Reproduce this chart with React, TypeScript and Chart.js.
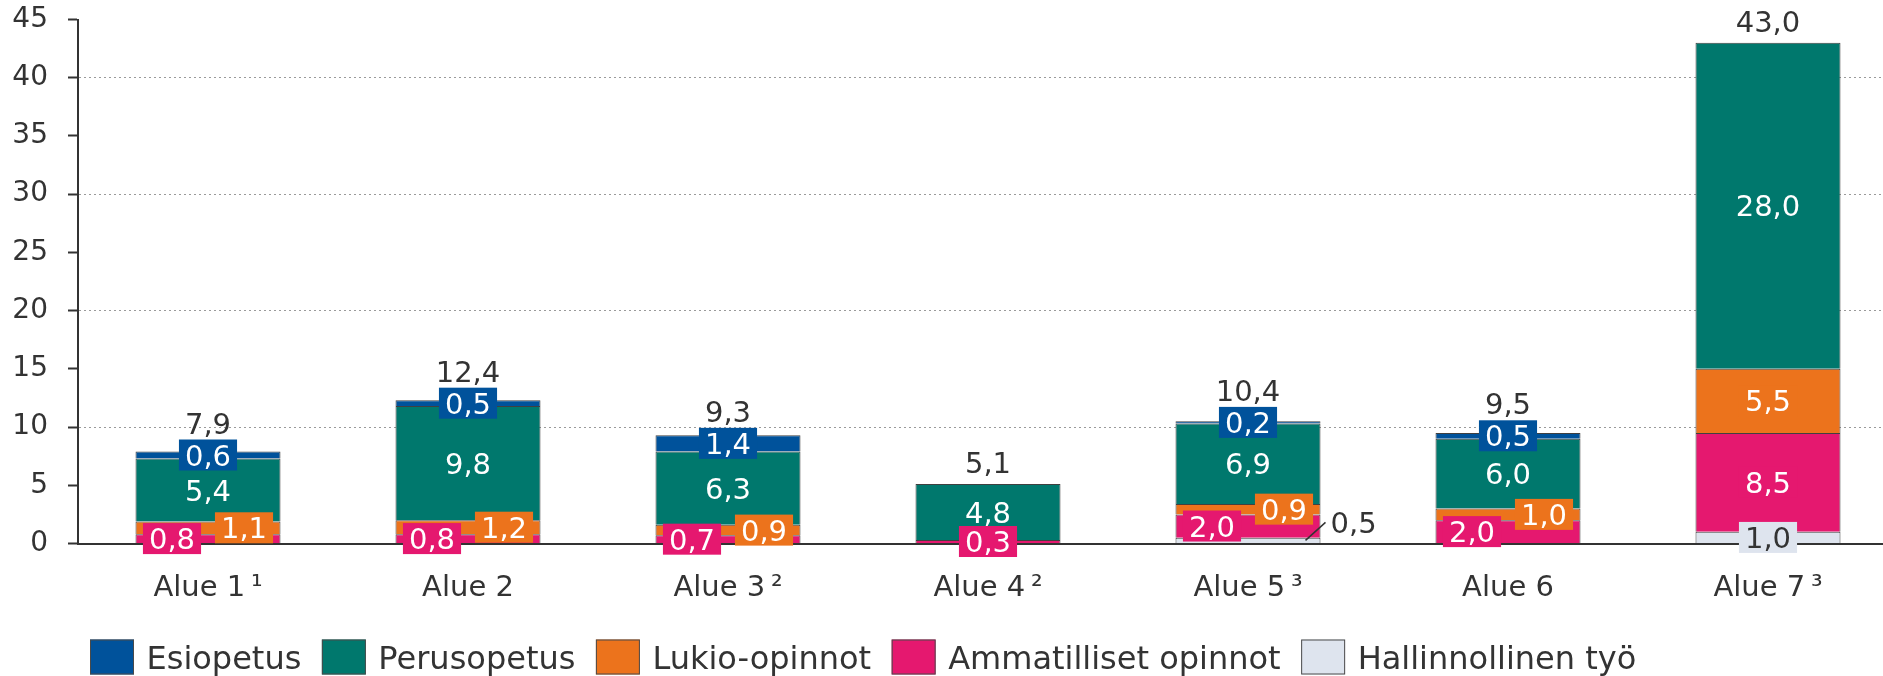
import { useEffect, useRef } from 'react';
import { Chart, registerables } from 'chart.js';

Chart.register(...registerables);

const FONT = '"DejaVu Sans", Verdana, sans-serif';
const TEXT = '#333333';

const categories = ['Alue 1\u2009¹', 'Alue 2', 'Alue 3\u2009²', 'Alue 4\u2009²', 'Alue 5\u2009³', 'Alue 6', 'Alue 7\u2009³'];
const hallinnollinen: (number | null)[] = [null, null, null, null, 0.5, null, 1.0];
const ammatilliset: (number | null)[] = [0.8, 0.8, 0.7, 0.3, 2.0, 2.0, 8.5];
const lukio: (number | null)[] = [1.1, 1.2, 0.9, null, 0.9, 1.0, 5.5];
const perusopetus: (number | null)[] = [5.4, 9.8, 6.3, 4.8, 6.9, 6.0, 28.0];
const esiopetus: (number | null)[] = [0.6, 0.5, 1.4, null, 0.2, 0.5, null];
const totals = [7.9, 12.4, 9.3, 5.1, 10.4, 9.5, 43.0];
const yMin = 0;
const yMax = 45;
const yStep = 5;

const COLORS = {
  esi: '#00529B',
  perus: '#00786D',
  lukio: '#EC731C',
  amm: '#E5186F',
  hall: '#DEE4EE',
};

const fmt = (v: number) => v.toFixed(1).replace('.', ',');

const LABEL_SIZE = 29;

const labelPlugin = {
  id: 'valueLabels',
  afterDatasetsDraw(chart: any) {
    const ctx = chart.ctx;
    ctx.save();
    ctx.font = `${LABEL_SIZE}px ${FONT}`;
    ctx.textAlign = 'center';
    ctx.textBaseline = 'alphabetic';
    const off = 0.3645 * LABEL_SIZE;
    const BOX_H = 31;
    const PAD = 6;
    const SMALL = 30;
    const seg = (d: number, i: number) => {
      const v = chart.data.datasets[d].data[i];
      if (v == null) return null;
      const el = chart.getDatasetMeta(d).data[i];
      return {
        v: v as number,
        x: el.x,
        top: Math.min(el.y, el.base),
        cy: (el.y + el.base) / 2,
        h: Math.abs(el.base - el.y),
        right: el.x + el.width / 2,
      };
    };
    const boxed = (txt: string, cx: number, cy: number, bg: string, fg: string) => {
      const w = ctx.measureText(txt).width + PAD * 2;
      ctx.fillStyle = bg;
      ctx.fillRect(cx - w / 2, cy - BOX_H / 2, w, BOX_H);
      ctx.fillStyle = fg;
      ctx.fillText(txt, cx, cy + off);
    };
    for (let i = 0; i < categories.length; i++) {
      const hall = seg(0, i);
      const amm = seg(1, i);
      const luk = seg(2, i);
      const per = seg(3, i);
      const esi = seg(4, i);
      if (per) {
        ctx.fillStyle = '#ffffff';
        ctx.fillText(fmt(per.v), per.x, per.cy + off);
      }
      if (hall) {
        if (hall.h < 10) {
          ctx.strokeStyle = TEXT;
          ctx.lineWidth = 1.5;
          ctx.beginPath();
          ctx.moveTo(hall.right - 15, hall.cy);
          ctx.lineTo(hall.right + 5, hall.cy - 18);
          ctx.stroke();
          ctx.fillStyle = TEXT;
          ctx.textAlign = 'left';
          ctx.fillText(fmt(hall.v), hall.right + 10, hall.cy - 18 + off);
          ctx.textAlign = 'center';
        } else {
          boxed(fmt(hall.v), hall.x, hall.cy, COLORS.hall, TEXT);
        }
      }
      if (amm) {
        const dx = amm.h < SMALL && luk ? -36 : 0;
        boxed(fmt(amm.v), amm.x + dx, amm.cy, COLORS.amm, '#ffffff');
      }
      if (luk) {
        const dx = luk.h < SMALL && amm ? 36 : 0;
        boxed(fmt(luk.v), luk.x + dx, luk.cy, COLORS.lukio, '#ffffff');
      }
      let totalBase = Infinity;
      if (esi) {
        boxed(fmt(esi.v), esi.x, esi.cy, COLORS.esi, '#ffffff');
        totalBase = esi.cy - BOX_H / 2 - 6;
      }
      const topSeg = esi || per;
      if (topSeg) {
        const barTop = topSeg.top;
        totalBase = Math.min(totalBase, barTop - 11);
        ctx.fillStyle = TEXT;
        ctx.fillText(fmt(totals[i]), topSeg.x, totalBase);
      }
    }
    ctx.restore();
  },
  afterDraw(chart: any) {
    const ctx = chart.ctx;
    ctx.save();
    const LS = 32;
    ctx.font = `${LS}px ${FONT}`;
    ctx.textAlign = 'left';
    ctx.textBaseline = 'alphabetic';
    const cy = 657;
    const BW = 44;
    const BH = 35;
    let x = 90;
    const ds = chart.data.datasets.slice().reverse();
    for (const d of ds) {
      ctx.fillStyle = d.backgroundColor;
      ctx.fillRect(x, cy - BH / 2, BW, BH);
      ctx.strokeStyle = '#4a4a4a';
      ctx.lineWidth = 1;
      ctx.strokeRect(x + 0.5, cy - BH / 2 + 0.5, BW - 1, BH - 1);
      x += BW + 12.5;
      ctx.fillStyle = TEXT;
      ctx.fillText(d.label, x, cy + 0.3645 * LS);
      x += ctx.measureText(d.label).width + 20.5;
    }
    ctx.restore();
  },
};

export default function App() {
  const ref = useRef<HTMLCanvasElement | null>(null);
  useEffect(() => {
    if (!ref.current) return;
    Chart.defaults.font.family = FONT;
    Chart.defaults.color = TEXT;
    const mk = (label: string, data: (number | null)[], color: string) => ({
      label,
      data,
      backgroundColor: color,
      borderColor: '#404040',
      borderWidth: 1,
      categoryPercentage: 1,
      barPercentage: 145 / 260,
    });
    const chart = new Chart(ref.current, {
      type: 'bar',
      data: {
        labels: categories,
        datasets: [
          mk('Hallinnollinen työ', hallinnollinen, COLORS.hall),
          mk('Ammatilliset opinnot', ammatilliset, COLORS.amm),
          mk('Lukio-opinnot', lukio, COLORS.lukio),
          mk('Perusopetus', perusopetus, COLORS.perus),
          mk('Esiopetus', esiopetus, COLORS.esi),
        ],
      },
      options: {
        animation: false,
        responsive: false,
        devicePixelRatio: 1,
        layout: { padding: { top: 19.5, right: 2, left: 0, bottom: 0 } },
        plugins: {
          legend: { display: false },
          tooltip: { enabled: false },
        },
        scales: {
          x: {
            stacked: true,
            grid: { display: false },
            border: { display: true, color: '#333', width: 2 },
            ticks: { font: { size: 29 }, color: TEXT, padding: 20, maxRotation: 0 },
            afterFit: (s: any) => {
              s.height = 676 - 543.5;
            },
          },
          y: {
            stacked: true,
            min: yMin,
            max: yMax,
            ticks: { stepSize: yStep, font: { size: 28 }, color: TEXT, padding: 20 },
            grid: {
              color: (c: any) =>
                c.tick && c.tick.value % 10 === 0 && c.tick.value !== 0 ? '#9a9a9a' : 'rgba(0,0,0,0)',
              lineWidth: 1,
              tickColor: '#333',
              tickLength: 10,
              tickWidth: 2,
              tickBorderDash: [],
            } as any,
            border: { display: true, color: '#333', width: 2, dash: [2, 3] },
            afterFit: (s: any) => {
              s.width = 78;
              s.paddingTop = 0;
              s.paddingBottom = 0;
            },
          },
        },
      },
      plugins: [labelPlugin],
    } as any);
    return () => chart.destroy();
  }, []);
  return (
    <div style={{ position: 'absolute', left: 0, top: 0, width: 1883, height: 676, overflow: 'hidden', background: '#fff' }}>
      <canvas ref={ref} width={1900} height={676} style={{ display: 'block', width: 1900, height: 676 }} />
    </div>
  );
}
